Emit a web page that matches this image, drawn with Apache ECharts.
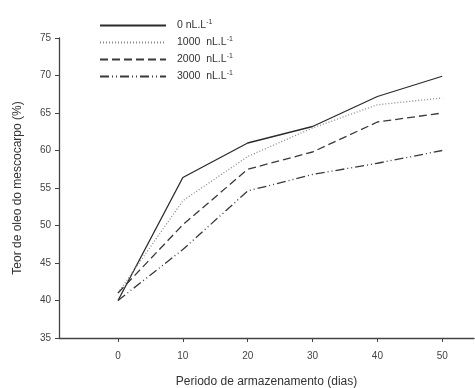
<!DOCTYPE html>
<html>
<head>
<meta charset="utf-8">
<title>Teor de oleo</title>
<script src="https://cdn.jsdelivr.net/npm/echarts@6/dist/echarts.min.js"></script>
<style>
  html, body { margin: 0; padding: 0; background: #fff; }
  #main { width: 475px; height: 388px; }
</style>
</head>
<body>
<div id="main"></div>
<script>
// dias de armazenamento
var dias = [0, 10, 20, 30, 40, 50];
var names = ['0', '1000', '2000', '3000'];
var s0 = [40.0, 56.4, 61.0, 63.2, 67.2, 69.9];
var s1000 = [41.0, 53.3, 59.2, 63.0, 66.1, 67.0];
var s2000 = [41.0, 50.1, 57.5, 59.8, 63.8, 65.0];
var s3000 = [40.0, 46.8, 54.6, 56.8, 58.3, 60.0];

function pts(arr) {
  return dias.map(function (d, i) { return [d, arr[i]]; });
}

var styles = [
  { color: '#2b2b2b', width: 1.3, type: 'solid' },
  { color: '#8a8a8a', width: 1.3, type: [1, 2] },
  { color: '#3a3a3a', width: 1.3, type: [8, 4] },
  { color: '#3a3a3a', width: 1.3, type: [9, 3, 1, 3, 1, 3] }
];
var data = [s0, s1000, s2000, s3000];

var chart = echarts.init(document.getElementById('main'));
var option = {
  animation: false,
  grid: { left: 59, right: 1, top: 38, bottom: 50, outerBoundsMode: 'none' },
  legend: {
    orient: 'vertical',
    left: 94,
    top: 14,
    itemWidth: 66,
    itemHeight: 10,
    itemGap: 5,
    data: names,
    itemStyle: { opacity: 0 },
    formatter: function (n) {
      return (n === '0' ? '0 nL.L' : n + '  nL.L') + '{s|-1}';
    },
    textStyle: {
      fontFamily: 'Liberation Sans', fontSize: 10.5, color: '#333', padding: [0, 0, 0, 6],
      rich: { s: { fontSize: 7, verticalAlign: 'top', padding: [0, 0, 6, 0], fontFamily: 'Liberation Sans', color: '#333' } }
    }
  },
  xAxis: {
    type: 'value',
    min: -9.1,
    max: 54.9,
    name: 'Periodo de armazenamento (dias)',
    nameLocation: 'middle',
    nameGap: 38,
    nameTextStyle: { fontFamily: 'Liberation Sans', fontSize: 12, color: '#333' },
    axisLine: { onZero: false, lineStyle: { color: '#444', width: 1.3 } },
    axisTick: { show: true, length: 4, customValues: dias, lineStyle: { color: '#444' } },
    axisLabel: { customValues: dias, fontFamily: 'Liberation Sans', fontSize: 10, color: '#444', margin: 13 },
    splitLine: { show: false }
  },
  yAxis: {
    type: 'value',
    min: 35,
    max: 75,
    interval: 5,
    name: 'Teor de oleo do mescocarpo (%)',
    nameLocation: 'middle',
    nameGap: 35,
    nameTextStyle: { fontFamily: 'Liberation Sans', fontSize: 12, color: '#333' },
    axisLine: { show: true, onZero: false, lineStyle: { color: '#444', width: 1.3 } },
    axisTick: { show: true, length: 4, lineStyle: { color: '#444' } },
    axisLabel: { fontFamily: 'Liberation Sans', fontSize: 10, color: '#444', margin: 8 },
    splitLine: { show: false }
  },
  series: names.map(function (n, i) {
    return {
      name: n,
      type: 'line',
      symbol: 'none',
      data: pts(data[i]),
      lineStyle: styles[i],
      itemStyle: { color: styles[i].color }
    };
  })
};
chart.setOption(option);
</script>
</body>
</html>
